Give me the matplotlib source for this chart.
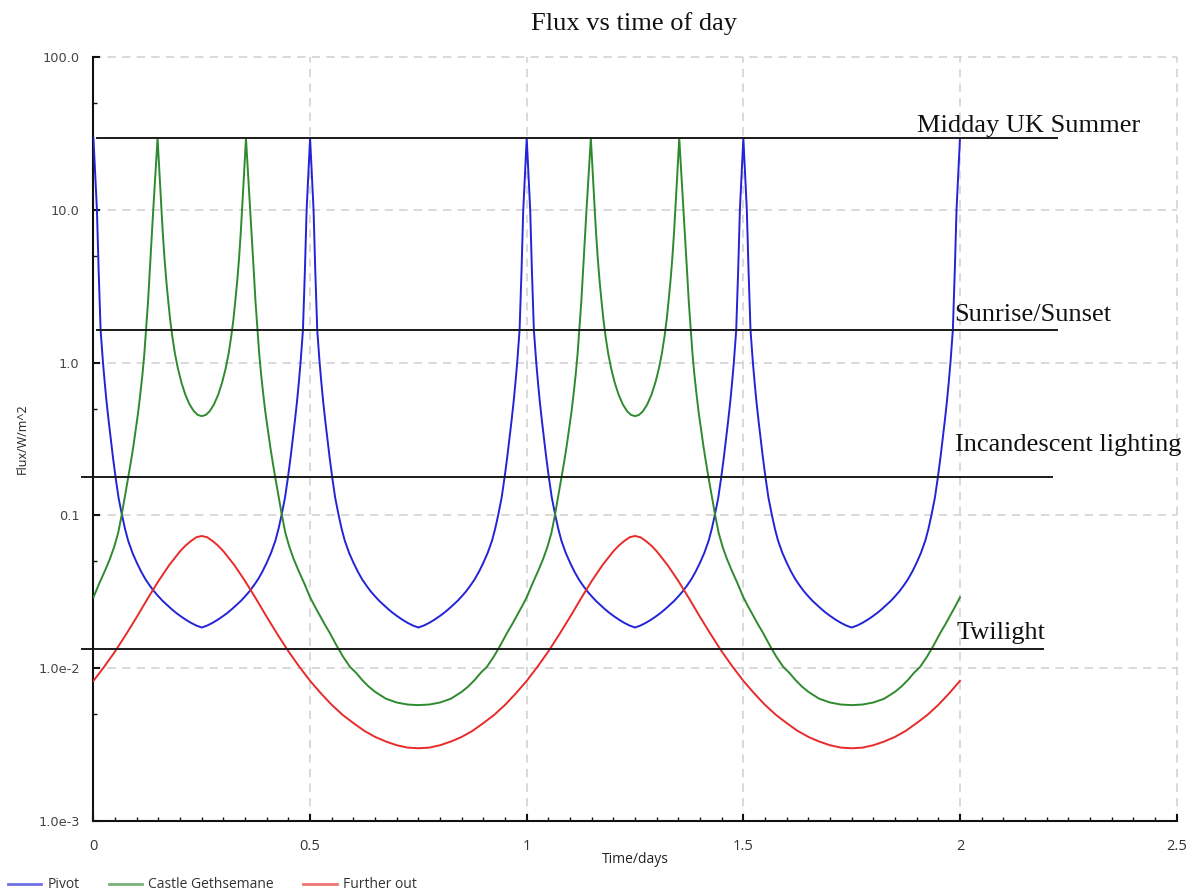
import matplotlib
matplotlib.use("Agg")
import matplotlib.pyplot as plt
from matplotlib.ticker import FixedLocator, FixedFormatter, NullFormatter
from matplotlib.lines import Line2D

plt.rcParams['lines.scale_dashes'] = False

# ---------------- data ----------------
t_pivot = [
    0.0, 0.004, 0.008, 0.012, 0.0165, 0.022, 0.026, 0.03, 0.035, 0.04, 0.045, 0.051, 0.058, 0.066, 0.073, 0.08,
    0.09, 0.10, 0.11, 0.12, 0.13, 0.14, 0.15, 0.16, 0.17, 0.18, 0.19, 0.20, 0.2125, 0.225, 0.2375, 0.25,
    0.2625, 0.275, 0.2875, 0.30, 0.31, 0.32, 0.33, 0.34, 0.35, 0.36, 0.37, 0.38, 0.39, 0.40, 0.41, 0.42,
    0.427, 0.434, 0.442, 0.449, 0.455, 0.46, 0.465, 0.47, 0.474, 0.478, 0.4835, 0.488, 0.492, 0.496,
    0.5, 0.504, 0.508, 0.512, 0.5165, 0.522, 0.526, 0.53, 0.535, 0.54, 0.545, 0.551, 0.558, 0.566, 0.573, 0.58,
    0.59, 0.60, 0.61, 0.62, 0.63, 0.64, 0.65, 0.66, 0.67, 0.68, 0.69, 0.70, 0.7125, 0.725, 0.7375, 0.75,
    0.7625, 0.775, 0.7875, 0.80, 0.81, 0.82, 0.83, 0.84, 0.85, 0.86, 0.87, 0.88, 0.89, 0.90, 0.91, 0.92,
    0.927, 0.934, 0.942, 0.949, 0.955, 0.96, 0.965, 0.97, 0.974, 0.978, 0.9835, 0.988, 0.992, 0.996,
    1.0, 1.004, 1.008, 1.012, 1.0165, 1.022, 1.026, 1.03, 1.035, 1.04, 1.045, 1.051, 1.058, 1.066, 1.073, 1.08,
    1.09, 1.10, 1.11, 1.12, 1.13, 1.14, 1.15, 1.16, 1.17, 1.18, 1.19, 1.20, 1.2125, 1.225, 1.2375, 1.25,
    1.2625, 1.275, 1.2875, 1.30, 1.31, 1.32, 1.33, 1.34, 1.35, 1.36, 1.37, 1.38, 1.39, 1.40, 1.41, 1.42,
    1.427, 1.434, 1.442, 1.449, 1.455, 1.46, 1.465, 1.47, 1.474, 1.478, 1.4835, 1.488, 1.492, 1.496,
    1.5, 1.504, 1.508, 1.512, 1.5165, 1.522, 1.526, 1.53, 1.535, 1.54, 1.545, 1.551, 1.558, 1.566, 1.573, 1.58,
    1.59, 1.60, 1.61, 1.62, 1.63, 1.64, 1.65, 1.66, 1.67, 1.68, 1.69, 1.70, 1.7125, 1.725, 1.7375, 1.75,
    1.7625, 1.775, 1.7875, 1.80, 1.81, 1.82, 1.83, 1.84, 1.85, 1.86, 1.87, 1.88, 1.89, 1.90, 1.91, 1.92,
    1.927, 1.934, 1.942, 1.949, 1.955, 1.96, 1.965, 1.97, 1.974, 1.978, 1.9835, 1.988, 1.992, 1.996,
    2.0]
flux_pivot = [
    29.4, 17.0, 10.0, 3.98, 1.63, 1.0, 0.741, 0.562, 0.417, 0.316, 0.240, 0.178, 0.130, 0.100, 0.0813, 0.0684,
    0.0569, 0.0490, 0.0429, 0.0382, 0.0347, 0.0318, 0.0295, 0.0275, 0.0259, 0.0244, 0.0231, 0.0220, 0.0208, 0.0198, 0.0190, 0.01845,
    0.0190, 0.0198, 0.0208, 0.0220, 0.0231, 0.0244, 0.0259, 0.0275, 0.0295, 0.0318, 0.0347, 0.0382, 0.0429, 0.0490, 0.0569, 0.0684,
    0.0813, 0.100, 0.130, 0.178, 0.240, 0.316, 0.417, 0.562, 0.741, 1.0, 1.63, 3.98, 10.0, 17.0,
    29.4, 17.0, 10.0, 3.98, 1.63, 1.0, 0.741, 0.562, 0.417, 0.316, 0.240, 0.178, 0.130, 0.100, 0.0813, 0.0684,
    0.0569, 0.0490, 0.0429, 0.0382, 0.0347, 0.0318, 0.0295, 0.0275, 0.0259, 0.0244, 0.0231, 0.0220, 0.0208, 0.0198, 0.0190, 0.01845,
    0.0190, 0.0198, 0.0208, 0.0220, 0.0231, 0.0244, 0.0259, 0.0275, 0.0295, 0.0318, 0.0347, 0.0382, 0.0429, 0.0490, 0.0569, 0.0684,
    0.0813, 0.100, 0.130, 0.178, 0.240, 0.316, 0.417, 0.562, 0.741, 1.0, 1.63, 3.98, 10.0, 17.0,
    29.4, 17.0, 10.0, 3.98, 1.63, 1.0, 0.741, 0.562, 0.417, 0.316, 0.240, 0.178, 0.130, 0.100, 0.0813, 0.0684,
    0.0569, 0.0490, 0.0429, 0.0382, 0.0347, 0.0318, 0.0295, 0.0275, 0.0259, 0.0244, 0.0231, 0.0220, 0.0208, 0.0198, 0.0190, 0.01845,
    0.0190, 0.0198, 0.0208, 0.0220, 0.0231, 0.0244, 0.0259, 0.0275, 0.0295, 0.0318, 0.0347, 0.0382, 0.0429, 0.0490, 0.0569, 0.0684,
    0.0813, 0.100, 0.130, 0.178, 0.240, 0.316, 0.417, 0.562, 0.741, 1.0, 1.63, 3.98, 10.0, 17.0,
    29.4, 17.0, 10.0, 3.98, 1.63, 1.0, 0.741, 0.562, 0.417, 0.316, 0.240, 0.178, 0.130, 0.100, 0.0813, 0.0684,
    0.0569, 0.0490, 0.0429, 0.0382, 0.0347, 0.0318, 0.0295, 0.0275, 0.0259, 0.0244, 0.0231, 0.0220, 0.0208, 0.0198, 0.0190, 0.01845,
    0.0190, 0.0198, 0.0208, 0.0220, 0.0231, 0.0244, 0.0259, 0.0275, 0.0295, 0.0318, 0.0347, 0.0382, 0.0429, 0.0490, 0.0569, 0.0684,
    0.0813, 0.100, 0.130, 0.178, 0.240, 0.316, 0.417, 0.562, 0.741, 1.0, 1.63, 3.98, 10.0, 17.0,
    29.4]

t_castle = [
    0.0, 0.0135, 0.027, 0.038, 0.048, 0.057, 0.065, 0.073, 0.0806, 0.087, 0.092, 0.098, 0.103, 0.108, 0.113,
    0.1175, 0.1215, 0.126, 0.130, 0.134, 0.138, 0.143, 0.148,
    0.1525, 0.157, 0.160, 0.164, 0.168, 0.172, 0.177, 0.182, 0.188, 0.195, 0.203, 0.212, 0.222, 0.232, 0.241, 0.25,
    0.259, 0.268, 0.278, 0.288, 0.297, 0.305, 0.312, 0.318, 0.323, 0.328, 0.332, 0.336, 0.340, 0.343, 0.3475, 0.352,
    0.357, 0.362, 0.366, 0.370, 0.374, 0.3785, 0.3825, 0.387, 0.392, 0.397, 0.402, 0.408, 0.413, 0.4194, 0.427,
    0.435, 0.443, 0.452, 0.462, 0.473, 0.4865,
    0.5, 0.5115, 0.523, 0.534, 0.545, 0.5615, 0.576, 0.592, 0.606, 0.62, 0.635, 0.65, 0.675, 0.70, 0.725, 0.75,
    0.775, 0.80, 0.825, 0.85, 0.865, 0.88, 0.894, 0.908, 0.924, 0.9385, 0.955, 0.966, 0.977, 0.9885,
    1.0, 1.0135, 1.027, 1.038, 1.048, 1.057, 1.065, 1.073, 1.0806, 1.087, 1.092, 1.098, 1.103, 1.108, 1.113,
    1.1175, 1.1215, 1.126, 1.130, 1.134, 1.138, 1.143, 1.148,
    1.1525, 1.157, 1.160, 1.164, 1.168, 1.172, 1.177, 1.182, 1.188, 1.195, 1.203, 1.212, 1.222, 1.232, 1.241, 1.25,
    1.259, 1.268, 1.278, 1.288, 1.297, 1.305, 1.312, 1.318, 1.323, 1.328, 1.332, 1.336, 1.340, 1.343, 1.3475, 1.352,
    1.357, 1.362, 1.366, 1.370, 1.374, 1.3785, 1.3825, 1.387, 1.392, 1.397, 1.402, 1.408, 1.413, 1.4194, 1.427,
    1.435, 1.443, 1.452, 1.462, 1.473, 1.4865,
    1.5, 1.5115, 1.523, 1.534, 1.545, 1.5615, 1.576, 1.592, 1.606, 1.62, 1.635, 1.65, 1.675, 1.70, 1.725, 1.75,
    1.775, 1.80, 1.825, 1.85, 1.865, 1.88, 1.894, 1.908, 1.924, 1.9385, 1.955, 1.966, 1.977, 1.9885,
    2.0]
flux_castle = [
    0.0291, 0.0359, 0.0437, 0.0519, 0.0624, 0.0767, 0.100, 0.135, 0.178, 0.229, 0.282, 0.372, 0.468, 0.617, 0.832,
    1.148, 1.66, 2.51, 3.98, 6.31, 10.0, 17.0, 29.4,
    17.0, 10.0, 7.08, 4.79, 3.47, 2.63, 1.91, 1.48, 1.148, 0.912, 0.741, 0.617, 0.531, 0.479, 0.454, 0.446,
    0.454, 0.479, 0.531, 0.617, 0.741, 0.912, 1.148, 1.48, 1.91, 2.63, 3.47, 4.79, 7.08, 10.0, 17.0, 29.4,
    17.0, 10.0, 6.31, 3.98, 2.51, 1.66, 1.148, 0.832, 0.617, 0.468, 0.372, 0.282, 0.229, 0.178, 0.135,
    0.100, 0.0767, 0.0624, 0.0519, 0.0437, 0.0359,
    0.0291, 0.0252, 0.0220, 0.0193, 0.0171, 0.0140, 0.0119, 0.0102, 0.00933, 0.00838, 0.00759, 0.00700, 0.00631,
    0.00596, 0.00578, 0.00573,
    0.00578, 0.00596, 0.00631, 0.00700, 0.00759, 0.00838, 0.00933, 0.0102, 0.0119, 0.0140, 0.0171, 0.0193, 0.0220, 0.0252,
    0.0291, 0.0359, 0.0437, 0.0519, 0.0624, 0.0767, 0.100, 0.135, 0.178, 0.229, 0.282, 0.372, 0.468, 0.617, 0.832,
    1.148, 1.66, 2.51, 3.98, 6.31, 10.0, 17.0, 29.4,
    17.0, 10.0, 7.08, 4.79, 3.47, 2.63, 1.91, 1.48, 1.148, 0.912, 0.741, 0.617, 0.531, 0.479, 0.454, 0.446,
    0.454, 0.479, 0.531, 0.617, 0.741, 0.912, 1.148, 1.48, 1.91, 2.63, 3.47, 4.79, 7.08, 10.0, 17.0, 29.4,
    17.0, 10.0, 6.31, 3.98, 2.51, 1.66, 1.148, 0.832, 0.617, 0.468, 0.372, 0.282, 0.229, 0.178, 0.135,
    0.100, 0.0767, 0.0624, 0.0519, 0.0437, 0.0359,
    0.0291, 0.0252, 0.0220, 0.0193, 0.0171, 0.0140, 0.0119, 0.0102, 0.00933, 0.00838, 0.00759, 0.00700, 0.00631,
    0.00596, 0.00578, 0.00573,
    0.00578, 0.00596, 0.00631, 0.00700, 0.00759, 0.00838, 0.00933, 0.0102, 0.0119, 0.0140, 0.0171, 0.0193, 0.0220, 0.0252,
    0.0291]

t_further = [
    0.000, 0.025, 0.050, 0.075, 0.100, 0.125, 0.150, 0.175, 0.200, 0.2125, 0.225, 0.2375, 0.250, 0.2625, 0.275,
    0.2875, 0.300, 0.325, 0.350, 0.375, 0.400, 0.425, 0.450, 0.475, 0.500, 0.525, 0.550, 0.575, 0.600, 0.625,
    0.650, 0.675, 0.700, 0.725, 0.750, 0.775, 0.800, 0.825, 0.850, 0.875, 0.900, 0.925, 0.950, 0.975,
    1.000, 1.025, 1.050, 1.075, 1.100, 1.125, 1.150, 1.175, 1.200, 1.2125, 1.225, 1.2375, 1.250, 1.2625, 1.275,
    1.2875, 1.300, 1.325, 1.350, 1.375, 1.400, 1.425, 1.450, 1.475, 1.500, 1.525, 1.550, 1.575, 1.600, 1.625,
    1.650, 1.675, 1.700, 1.725, 1.750, 1.775, 1.800, 1.825, 1.850, 1.875, 1.900, 1.925, 1.950, 1.975,
    2.000]
flux_further = [
    0.00826, 0.01023, 0.01288, 0.01660, 0.02163, 0.02851, 0.03715, 0.04732, 0.05821, 0.0634, 0.06792, 0.0719,
    0.07328, 0.0719, 0.06792, 0.0634, 0.05821, 0.04732, 0.03715, 0.02851, 0.02163, 0.01660, 0.01288, 0.01023,
    0.00826, 0.00684, 0.00575, 0.00495, 0.00437, 0.00389, 0.00355, 0.00331, 0.00313, 0.00302, 0.00299, 0.00302,
    0.00313, 0.00331, 0.00355, 0.00389, 0.00437, 0.00495, 0.00575, 0.00684,
    0.00826, 0.01023, 0.01288, 0.01660, 0.02163, 0.02851, 0.03715, 0.04732, 0.05821, 0.0634, 0.06792, 0.0719,
    0.07328, 0.0719, 0.06792, 0.0634, 0.05821, 0.04732, 0.03715, 0.02851, 0.02163, 0.01660, 0.01288, 0.01023,
    0.00826, 0.00684, 0.00575, 0.00495, 0.00437, 0.00389, 0.00355, 0.00331, 0.00313, 0.00302, 0.00299, 0.00302,
    0.00313, 0.00331, 0.00355, 0.00389, 0.00437, 0.00495, 0.00575, 0.00684,
    0.00826]

ref_names = ["Midday UK Summer", "Sunrise/Sunset", "Incandescent lighting", "Twilight"]
ref_values = [29.4, 1.63, 0.178, 0.0133]
ref_start = [0.008, 0.008, -0.027, -0.027]
ref_end = [2.223, 2.223, 2.212, 2.191]
ref_label_x = [1.900, 1.986, 1.988, 1.992]

y_ticks = [1e-3, 1e-2, 0.1, 1.0, 10.0, 100.0]
y_ticklabels = ["1.0e-3", "1.0e-2", "0.1", "1.0", "10.0", "100.0"]
x_ticks = [0, 0.5, 1, 1.5, 2, 2.5]
x_ticklabels = ["0", "0.5", "1", "1.5", "2", "2.5"]

# ---------------- figure ----------------
fig = plt.figure(figsize=(11.92, 8.94), dpi=100)
ax = fig.add_axes([0.0784, 0.0817, 0.9087, 0.8546])
ax.set_yscale('log')
ax.set_xlim(0, 2.5)
ax.set_ylim(1e-3, 100)

c_blue, c_green, c_red = '#2323d8', '#2f8a2f', '#e82a2a'
ax.plot(t_pivot, flux_pivot, color=c_blue, lw=1.4, zorder=3)
ax.plot(t_castle, flux_castle, color=c_green, lw=1.4, zorder=3)
ax.plot(t_further, flux_further, color=c_red, lw=1.4, zorder=3)

# reference levels
offs = [4.8, 6.5, 19.0, 7.2]
for name, v, x0, x1, lx, o in zip(ref_names, ref_values, ref_start, ref_end, ref_label_x, offs):
    ax.plot([x0, x1], [v, v], color='#1a1a1a', lw=1.4, clip_on=False, zorder=4)
    ax.annotate(name, xy=(lx, v), xytext=(0, o), textcoords='offset points',
                ha='left', va='baseline', fontsize=19, family='Liberation Serif', color='#111111')

# grid
grid_kw = dict(color='#cfcfcf', lw=1.1, linestyle=(0, (6, 4.5)), zorder=1)
for gx in x_ticks[1:]:
    ax.axvline(gx, clip_on=False, **grid_kw)
for gy in y_ticks[1:]:
    ax.axhline(gy, clip_on=False, **grid_kw)

for s in ['top', 'right']:
    ax.spines[s].set_visible(False)
for s in ['left', 'bottom']:
    ax.spines[s].set_linewidth(1.5)
    ax.spines[s].set_color('#111111')

ax.xaxis.set_major_locator(FixedLocator(x_ticks))
ax.xaxis.set_major_formatter(FixedFormatter(x_ticklabels))
ax.xaxis.set_minor_locator(FixedLocator([i * 0.05 for i in range(50)]))
ax.yaxis.set_major_locator(FixedLocator(y_ticks))
ax.yaxis.set_major_formatter(FixedFormatter(y_ticklabels))
ax.yaxis.set_minor_locator(FixedLocator([5e-3, 5e-2, 0.5, 5, 50]))
ax.yaxis.set_minor_formatter(NullFormatter())

ax.tick_params(axis='both', which='major', direction='in', length=5, width=1.5, color='#111111')
ax.tick_params(axis='both', which='minor', direction='in', length=3, width=1.0, color='#111111')
ax.tick_params(axis='y', which='major', pad=10, labelsize=9.3, labelcolor='#444444')
ax.tick_params(axis='x', which='major', pad=13, labelsize=10.5, labelcolor='#333333')
for lab in ax.get_xticklabels():
    lab.set_family('Open Sans')

ax.set_xlabel('Time/days', fontsize=10, family='Open Sans', color='#222222')
ax.xaxis.set_label_coords(0.5, -0.040)
ax.set_ylabel('Flux/W/m^2', fontsize=9, family='Open Sans', color='#222222')
ax.yaxis.set_label_coords(-0.060, 0.5)

fig.text(0.532, 1 - 30 / 894, 'Flux vs time of day', ha='center', va='baseline',
         fontsize=19, family='Liberation Serif', color='#111111')

handles = [Line2D([], [], color=c, lw=2.0, alpha=0.65) for c in (c_blue, c_green, c_red)]
fig.legend(handles, ['Pivot', 'Castle Gethsemane', 'Further out'], loc='center left',
           bbox_to_anchor=(8 / 1192, 1 - 885 / 894), ncol=3, frameon=False,
           prop={'family': 'Open Sans', 'size': 10}, labelcolor='#333333',
           handlelength=2.4, handletextpad=0.45, columnspacing=2.1,
           borderpad=0, borderaxespad=0)

fig.savefig('out.png', dpi=100)
